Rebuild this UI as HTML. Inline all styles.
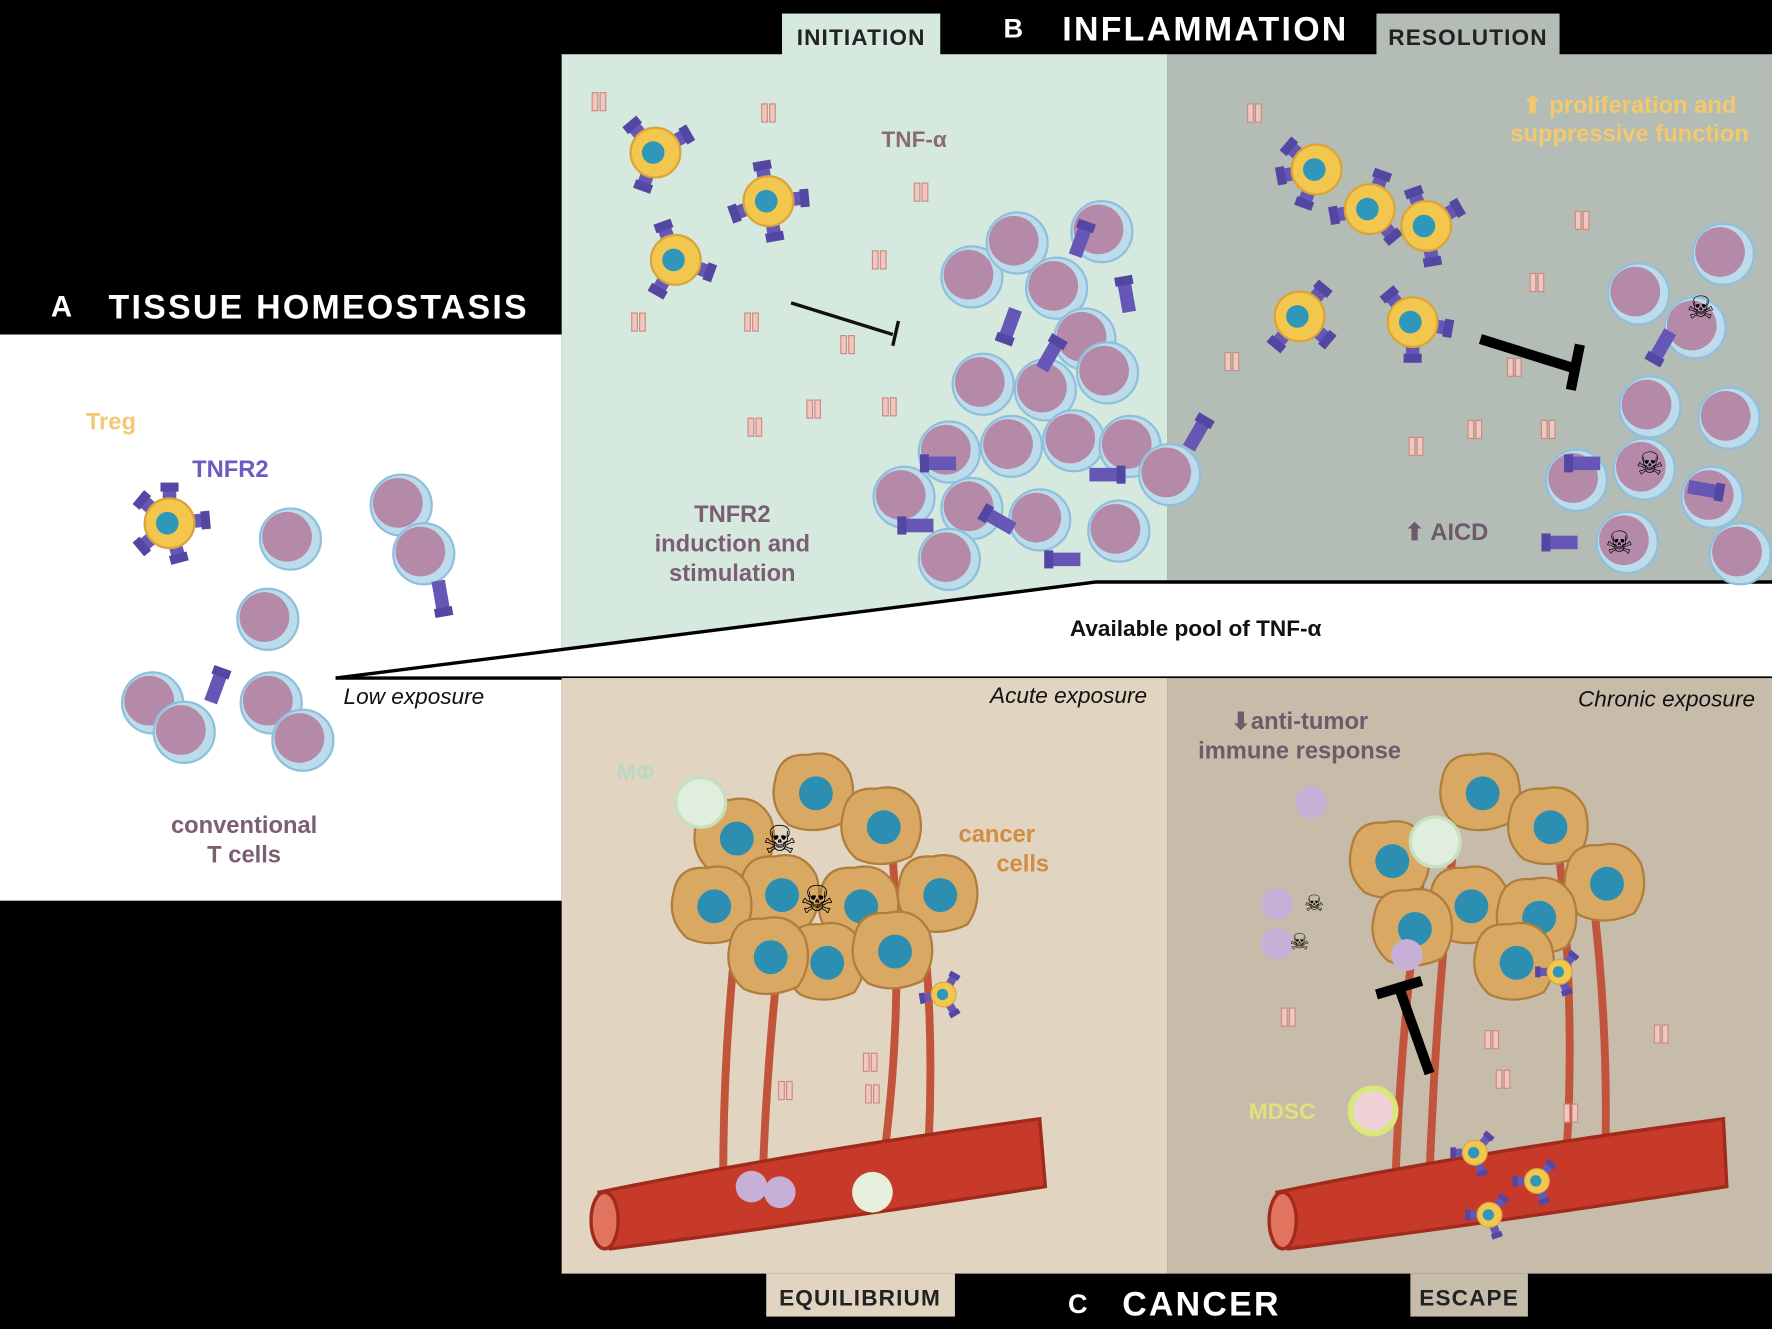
<!DOCTYPE html>
<html><head><meta charset="utf-8"><style>
html,body{margin:0;padding:0;background:#000;}
svg{display:block}
text{font-family:"Liberation Sans",sans-serif;}
.t{font-weight:bold;}
</style></head><body>
<svg width="1772" height="1329" viewBox="0 0 1772 1329" xmlns="http://www.w3.org/2000/svg">
<defs>
<g id="tc"><circle r="27" fill="#bcdcec" stroke="#8ec0de" stroke-width="2"/><circle cx="-3" cy="-2" r="22" fill="#b48aa8"/></g>
<g id="tr"><circle r="22" fill="#f3c64e" stroke="#d9a53a" stroke-width="2"/><circle cx="-2" cy="0" r="10" fill="#2f97b9"/></g>
<g id="rc"><rect x="-6" y="-30" width="12" height="26" fill="#6657b6"/><rect x="-8" y="-36" width="16" height="8" fill="#5447a3"/></g>
<g id="tnf"><rect x="-6" y="-8" width="5" height="16" fill="#f1c7bd" stroke="#c98a84" stroke-width="1"/><rect x="1" y="-8" width="5" height="16" fill="#f1c7bd" stroke="#c98a84" stroke-width="1"/></g>
<g id="ca"><path d="M-34,-10 Q-30,-34 -5,-32 Q20,-38 32,-16 Q40,8 26,28 Q0,40 -22,30 Q-40,14 -34,-10Z" fill="#d9a964" stroke="#b07d3c" stroke-width="2"/><circle cx="2" cy="2" r="15" fill="#2c8fb2"/></g>
</defs>
<rect width="1772" height="1329" fill="#000"/>
<g transform="scale(1.1301)">
<!-- panel A -->
<rect x="0" y="296" width="497" height="501" fill="#fff"/>
<text x="45" y="280" fill="#fff" font-size="26" class="t">A</text>
<text x="96" y="282" fill="#fff" font-size="30" class="t" letter-spacing="2">TISSUE HOMEOSTASIS</text>
<!-- panel B -->
<rect x="497" y="48" width="536" height="552" fill="#d6e9df"/>
<rect x="1033" y="48" width="535" height="467" fill="#b3bcb5"/>
<rect x="692" y="12" width="140" height="37" fill="#d6e9df"/>
<rect x="1218" y="12" width="162" height="37" fill="#b3bcb5"/>
<text x="762" y="40" text-anchor="middle" font-size="20" class="t" fill="#222" letter-spacing="1">INITIATION</text>
<text x="1299" y="40" text-anchor="middle" font-size="20" class="t" fill="#222" letter-spacing="1">RESOLUTION</text>
<text x="888" y="33" fill="#fff" font-size="24" class="t">B</text>
<text x="940" y="36" fill="#fff" font-size="30" class="t" letter-spacing="2">INFLAMMATION</text>
<!-- wedge -->
<polygon points="297,600 970,515 1568,515 1568,600" fill="#fff"/>
<polyline points="297,600 970,515 1568,515" fill="none" stroke="#000" stroke-width="3"/>
<line x1="297" y1="600" x2="1568" y2="600" stroke="#000" stroke-width="3"/>
<text x="1058" y="563" text-anchor="middle" font-size="20" class="t" fill="#111">Available pool of TNF-α</text>
<text x="304" y="623" font-size="20" font-style="italic" fill="#111">Low exposure</text>
<!-- panel C -->
<rect x="497" y="600" width="536" height="527" fill="#e1d4c1"/>
<rect x="1033" y="600" width="535" height="527" fill="#c7bcaa"/>
<rect x="678" y="1127" width="167" height="38" fill="#e1d4c1"/>
<rect x="1248" y="1127" width="104" height="38" fill="#c7bcaa"/>
<text x="761" y="1155" text-anchor="middle" font-size="20" class="t" fill="#222" letter-spacing="1">EQUILIBRIUM</text>
<text x="1300" y="1155" text-anchor="middle" font-size="20" class="t" fill="#222" letter-spacing="1">ESCAPE</text>
<text x="945" y="1162" fill="#fff" font-size="24" class="t">C</text>
<text x="993" y="1164" fill="#fff" font-size="30" class="t" letter-spacing="2">CANCER</text>
<text x="1015" y="622" text-anchor="end" font-size="20" font-style="italic" fill="#111">Acute exposure</text>
<text x="1553" y="625" text-anchor="end" font-size="20" font-style="italic" fill="#111">Chronic exposure</text>

<!-- Panel A contents -->
<text x="76" y="380" font-size="21" class="t" fill="#f3c977">Treg</text>
<text x="170" y="422" font-size="21" class="t" fill="#6a5cc0">TNFR2</text>
<g transform="translate(150,463)"><use href="#rc" transform="rotate(0)"/><use href="#rc" transform="rotate(-50)"/><use href="#rc" transform="rotate(85)"/><use href="#rc" transform="rotate(165)"/><use href="#rc" transform="rotate(230)"/><use href="#tr"/></g>
<use href="#tc" x="257" y="477"/><use href="#tc" x="355" y="447"/><use href="#tc" x="375" y="490"/>
<use href="#tc" x="237" y="548"/><use href="#tc" x="135" y="622"/><use href="#tc" x="163" y="648"/>
<use href="#tc" x="240" y="622"/><use href="#tc" x="268" y="655"/>
<use href="#rc" transform="translate(387,510) rotate(170)"/><use href="#rc" transform="translate(185,625) rotate(20)"/>
<text x="216" y="737" text-anchor="middle" font-size="21" class="t" fill="#7b5e72">conventional</text>
<text x="216" y="763" text-anchor="middle" font-size="21" class="t" fill="#7b5e72">T cells</text>

<!-- Panel B initiation -->
<text x="780" y="130" font-size="20" class="t" fill="#8a6c6c">TNF-α</text>
<g transform="translate(580,135)"><use href="#rc" transform="rotate(-40)"/><use href="#rc" transform="rotate(60)"/><use href="#rc" transform="rotate(200)"/><use href="#tr"/></g>
<g transform="translate(680,178)"><use href="#rc" transform="rotate(-10)"/><use href="#rc" transform="rotate(85)"/><use href="#rc" transform="rotate(170)"/><use href="#rc" transform="rotate(250)"/><use href="#tr"/></g>
<g transform="translate(598,230)"><use href="#rc" transform="rotate(110)"/><use href="#rc" transform="rotate(210)"/><use href="#rc" transform="rotate(-20)"/><use href="#tr"/></g>
<use href="#tnf" x="815" y="170"/><use href="#tnf" x="778" y="230"/><use href="#tnf" x="665" y="285"/><use href="#tnf" x="750" y="305"/><use href="#tnf" x="668" y="378"/><use href="#tnf" x="720" y="362"/><use href="#tnf" x="787" y="360"/><use href="#tnf" x="565" y="285"/><use href="#tnf" x="530" y="90"/><use href="#tnf" x="680" y="100"/>
<line x1="700" y1="268" x2="790" y2="296" stroke="#111" stroke-width="3"/><line x1="795" y1="284" x2="790" y2="306" stroke="#111" stroke-width="3"/>
<g>
<use href="#tc" x="860" y="245"/><use href="#tc" x="900" y="215"/><use href="#tc" x="935" y="255"/><use href="#tc" x="975" y="205"/><use href="#tc" x="960" y="300"/>
<use href="#tc" x="870" y="340"/><use href="#tc" x="925" y="345"/><use href="#tc" x="980" y="330"/><use href="#tc" x="840" y="400"/><use href="#tc" x="895" y="395"/><use href="#tc" x="950" y="390"/><use href="#tc" x="1000" y="395"/>
<use href="#tc" x="800" y="440"/><use href="#tc" x="860" y="450"/><use href="#tc" x="920" y="460"/><use href="#tc" x="990" y="470"/><use href="#tc" x="1035" y="420"/><use href="#tc" x="840" y="495"/>
<use href="#rc" transform="translate(950,230) rotate(20)"/><use href="#rc" transform="translate(900,270) rotate(200)"/><use href="#rc" transform="translate(1000,280) rotate(-10)"/><use href="#rc" transform="translate(920,330) rotate(30)"/><use href="#rc" transform="translate(850,410) rotate(-90)"/><use href="#rc" transform="translate(960,420) rotate(90)"/><use href="#rc" transform="translate(1050,400) rotate(30)"/><use href="#rc" transform="translate(900,470) rotate(-60)"/><use href="#rc" transform="translate(960,495) rotate(-90)"/><use href="#rc" transform="translate(830,465) rotate(-90)"/>
</g>
<text x="648" y="462" text-anchor="middle" font-size="21" class="t" fill="#7b5e72">TNFR2</text>
<text x="648" y="488" text-anchor="middle" font-size="21" class="t" fill="#7b5e72">induction and</text>
<text x="648" y="514" text-anchor="middle" font-size="21" class="t" fill="#7b5e72">stimulation</text>

<!-- Panel B resolution -->
<text x="1442" y="100" text-anchor="middle" font-size="21" class="t" fill="#f4c96c">⬆ proliferation and</text>
<text x="1442" y="125" text-anchor="middle" font-size="21" class="t" fill="#f4c96c">suppressive function</text>
<g transform="translate(1165,150)"><use href="#rc" transform="rotate(-50)"/><use href="#rc" transform="rotate(200)"/><use href="#rc" transform="rotate(260)"/><use href="#tr"/></g>
<g transform="translate(1212,185)"><use href="#rc" transform="rotate(20)"/><use href="#rc" transform="rotate(140)"/><use href="#rc" transform="rotate(260)"/><use href="#tr"/></g>
<g transform="translate(1262,200)"><use href="#rc" transform="rotate(60)"/><use href="#rc" transform="rotate(170)"/><use href="#rc" transform="rotate(-20)"/><use href="#tr"/></g>
<g transform="translate(1150,280)"><use href="#rc" transform="rotate(220)"/><use href="#rc" transform="rotate(130)"/><use href="#rc" transform="rotate(40)"/><use href="#tr"/></g>
<g transform="translate(1250,285)"><use href="#rc" transform="rotate(180)"/><use href="#rc" transform="rotate(100)"/><use href="#rc" transform="rotate(-40)"/><use href="#tr"/></g>
<line x1="1310" y1="300" x2="1390" y2="325" stroke="#000" stroke-width="9"/><line x1="1398" y1="305" x2="1390" y2="345" stroke="#000" stroke-width="9"/>
<use href="#tnf" x="1400" y="195"/><use href="#tnf" x="1360" y="250"/><use href="#tnf" x="1340" y="325"/><use href="#tnf" x="1253" y="395"/><use href="#tnf" x="1305" y="380"/><use href="#tnf" x="1370" y="380"/><use href="#tnf" x="1110" y="100"/><use href="#tnf" x="1090" y="320"/>
<use href="#tc" x="1525" y="225"/><use href="#tc" x="1450" y="260"/><use href="#tc" x="1500" y="290"/><use href="#tc" x="1460" y="360"/><use href="#tc" x="1530" y="370"/><use href="#tc" x="1395" y="425"/><use href="#tc" x="1455" y="415"/><use href="#tc" x="1515" y="440"/><use href="#tc" x="1440" y="480"/><use href="#tc" x="1540" y="490"/>
<text x="1505" y="282" text-anchor="middle" font-size="28">☠</text><text x="1460" y="420" text-anchor="middle" font-size="28">☠</text><text x="1433" y="490" text-anchor="middle" font-size="28">☠</text>
<use href="#rc" transform="translate(1480,290) rotate(-150)"/><use href="#rc" transform="translate(1420,410) rotate(-90)"/><use href="#rc" transform="translate(1490,430) rotate(100)"/><use href="#rc" transform="translate(1400,480) rotate(-90)"/>
<text x="1280" y="478" text-anchor="middle" font-size="21" class="t" fill="#6e5a6a">⬆ AICD</text>

<!-- Panel C equilibrium -->
<g fill="none" stroke="#c2543c" stroke-width="7">
<path d="M660,760 Q640,900 640,1040"/><path d="M700,760 Q680,900 675,1040"/><path d="M790,760 Q800,900 780,1040"/><path d="M810,760 Q830,900 820,1040"/>
</g>
<use href="#ca" x="720" y="700"/><use href="#ca" x="780" y="730"/><use href="#ca" x="650" y="740"/><use href="#ca" x="830" y="790"/><use href="#ca" x="690" y="790"/><use href="#ca" x="760" y="800"/><use href="#ca" x="630" y="800"/><use href="#ca" x="730" y="850"/><use href="#ca" x="680" y="845"/><use href="#ca" x="790" y="840"/>
<text x="690" y="755" text-anchor="middle" font-size="34">☠</text><text x="723" y="808" text-anchor="middle" font-size="34">☠</text>
<circle cx="620" cy="710" r="22" fill="#dfeedd" stroke="#c7e0c2" stroke-width="3"/>
<text x="546" y="690" font-size="20" class="t" fill="#bcd8c4">MΦ</text>
<text x="882" y="745" text-anchor="middle" font-size="21" class="t" fill="#d28d3e">cancer</text>
<text x="905" y="771" text-anchor="middle" font-size="21" class="t" fill="#d28d3e">cells</text>
<g transform="translate(835,880)"><use href="#rc" transform="rotate(30) scale(.6)"/><use href="#rc" transform="rotate(150) scale(.6)"/><use href="#rc" transform="rotate(260) scale(.6)"/><use href="#tr" transform="scale(.5)"/></g>
<path d="M530,1055 Q700,1020 920,990 L925,1050 Q700,1085 540,1105Z" fill="#c73a2a" stroke="#a02a1c" stroke-width="3"/>
<ellipse cx="535" cy="1080" rx="12" ry="25" fill="#e0745f" stroke="#a02a1c" stroke-width="3"/>
<circle cx="665" cy="1050" r="14" fill="#c7b0d8"/><circle cx="690" cy="1055" r="14" fill="#c7b0d8"/><circle cx="772" cy="1055" r="18" fill="#e5efdc"/>
<use href="#tnf" x="695" y="965"/><use href="#tnf" x="772" y="968"/><use href="#tnf" x="770" y="940"/>

<!-- Panel C escape -->
<text x="1150" y="645" text-anchor="middle" font-size="21" class="t" fill="#6e5a6a">⬇anti-tumor</text>
<text x="1150" y="671" text-anchor="middle" font-size="21" class="t" fill="#6e5a6a">immune response</text>
<g fill="none" stroke="#c2543c" stroke-width="7">
<path d="M1260,760 Q1240,900 1235,1040"/><path d="M1285,760 Q1270,900 1265,1040"/><path d="M1380,760 Q1395,900 1385,1040"/><path d="M1405,760 Q1425,900 1420,1040"/>
</g>
<use href="#ca" x="1310" y="700"/><use href="#ca" x="1370" y="730"/><use href="#ca" x="1230" y="760"/><use href="#ca" x="1420" y="780"/><use href="#ca" x="1300" y="800"/><use href="#ca" x="1360" y="810"/><use href="#ca" x="1250" y="820"/><use href="#ca" x="1340" y="850"/>
<circle cx="1270" cy="745" r="22" fill="#dfeedd" stroke="#c7e0c2" stroke-width="3"/>
<circle cx="1160" cy="710" r="14" fill="#c7b0d8"/><circle cx="1130" cy="800" r="14" fill="#c7b0d8"/><circle cx="1130" cy="835" r="14" fill="#c7b0d8"/><circle cx="1245" cy="845" r="14" fill="#c7b0d8"/>
<text x="1163" y="806" text-anchor="middle" font-size="20">☠</text><text x="1150" y="840" text-anchor="middle" font-size="20">☠</text>
<line x1="1218" y1="880" x2="1258" y2="868" stroke="#000" stroke-width="9"/><line x1="1238" y1="874" x2="1265" y2="950" stroke="#000" stroke-width="9"/>
<circle cx="1215" cy="983" r="20" fill="#f0d2d6" stroke="#d9e87a" stroke-width="5"/>
<text x="1105" y="990" font-size="20" class="t" fill="#dfe37a">MDSC</text>
<path d="M1130,1055 Q1300,1020 1525,990 L1528,1050 Q1300,1085 1140,1105Z" fill="#c73a2a" stroke="#a02a1c" stroke-width="3"/>
<ellipse cx="1135" cy="1080" rx="12" ry="25" fill="#e0745f" stroke="#a02a1c" stroke-width="3"/>
<g transform="translate(1305,1020)"><use href="#rc" transform="rotate(40) scale(.6)"/><use href="#rc" transform="rotate(160) scale(.6)"/><use href="#rc" transform="rotate(270) scale(.6)"/><use href="#tr" transform="scale(.5)"/></g>
<g transform="translate(1360,1045)"><use href="#rc" transform="rotate(40) scale(.6)"/><use href="#rc" transform="rotate(160) scale(.6)"/><use href="#rc" transform="rotate(270) scale(.6)"/><use href="#tr" transform="scale(.5)"/></g>
<g transform="translate(1318,1075)"><use href="#rc" transform="rotate(40) scale(.6)"/><use href="#rc" transform="rotate(160) scale(.6)"/><use href="#rc" transform="rotate(270) scale(.6)"/><use href="#tr" transform="scale(.5)"/></g>
<g transform="translate(1380,860)"><use href="#rc" transform="rotate(40) scale(.6)"/><use href="#rc" transform="rotate(160) scale(.6)"/><use href="#rc" transform="rotate(270) scale(.6)"/><use href="#tr" transform="scale(.5)"/></g>
<use href="#tnf" x="1140" y="900"/><use href="#tnf" x="1320" y="920"/><use href="#tnf" x="1470" y="915"/><use href="#tnf" x="1390" y="985"/><use href="#tnf" x="1330" y="955"/>
</g>
</svg>
</body></html>
